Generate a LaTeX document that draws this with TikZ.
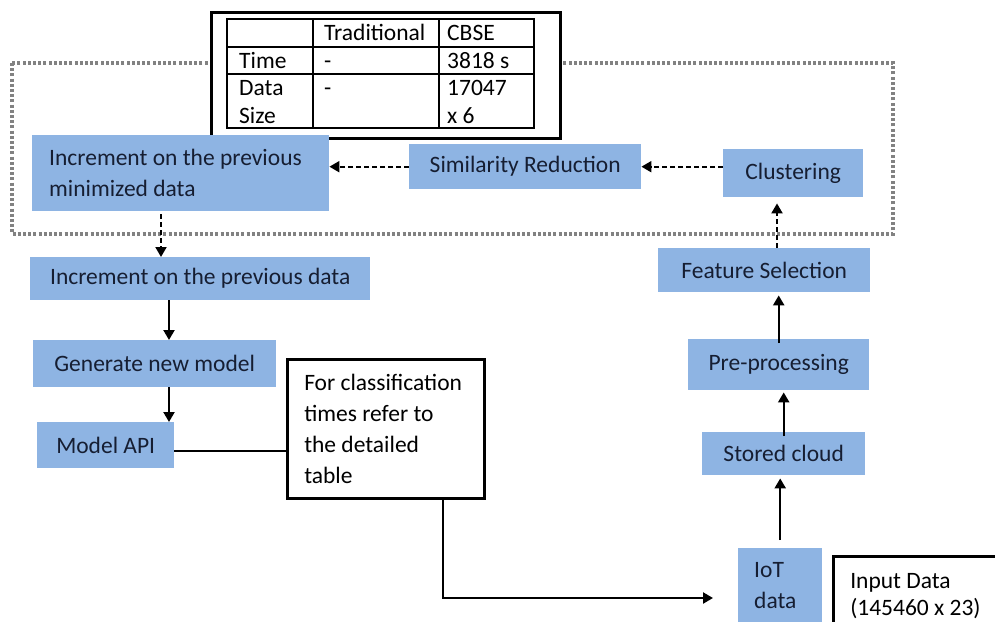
\documentclass[tikz,border=0pt]{standalone}
\usepackage{fontspec}
\setmainfont{Carlito}
\usetikzlibrary{arrows.meta,calc}
\definecolor{boxblue}{RGB}{142,180,227}
\definecolor{boxtext}{RGB}{22,30,50}
\definecolor{dotgray}{RGB}{130,130,130}
\begin{document}
\begin{tikzpicture}[x=1pt,y=-1pt,
  every node/.style={font=\fontsize{23.5}{31}\selectfont},
  bluebox/.style={fill=boxblue, draw=none, text=boxtext, inner sep=0pt, anchor=north west},
  notebox/.style={fill=white, draw=black, line width=2.5pt, text=black, anchor=north west, inner sep=0pt},
  tcell/.style={anchor=base west, inner sep=0pt, text=black},
  solidarrow/.style={line width=2.2pt, -{Triangle[length=10pt,width=11pt]}},
  dasharrow/.style={line width=2pt, dash pattern=on 5pt off 3pt, -{Triangle[length=10pt,width=11pt]}},
  conn/.style={line width=2.2pt},
  gridline/.style={line width=1.5pt},
]
\useasboundingbox (0,0) rectangle (995,621);
\clip (0,0) rectangle (995,621);
\fill[white] (0,0) rectangle (995,621);

% dotted frame
\draw[dotgray, line width=3.5pt, dash pattern=on 3pt off 2.2pt] (12,63) rectangle (893,234);

% table
\node[draw=black, fill=white, line width=3pt, minimum width=349pt, minimum height=126pt, anchor=north west, inner sep=0pt] (tbl) at (210,11) {};
\draw[gridline] (227,19) rectangle (534,128);
\draw[gridline] (227,47) -- (534,47);
\draw[gridline] (227,74) -- (534,74);
\draw[gridline] (313,19) -- (313,128);
\draw[gridline] (439,19) -- (439,128);
\node[tcell] (th2) at (324,40.5) {Traditional};
\node[tcell] (th3) at (447,40.5) {CBSE};
\node[tcell] (tr1) at (239,68.5) {Time};
\node[tcell] (tr2) at (324,68.5) {-};
\node[tcell] (tr3) at (447,68.5) {3818 s};
\node[tcell, align=flush left, font=\fontsize{23.5}{28}\selectfont] (ts1) at (239,123.5) {Data\\Size};
\node[tcell] (ts2) at (324,95.5) {-};
\node[tcell, align=flush left, font=\fontsize{23.5}{28}\selectfont] (ts3) at (447,123.5) {17047\\x 6};

% blue boxes
\node[bluebox, minimum width=297pt, minimum height=76pt, text width=263pt, inner xsep=17pt, align=flush left] (min) at (32,135) {Increment on the previous\\minimized data};
\node[bluebox, minimum width=232pt, minimum height=45pt] (sim) at (409,144) {Similarity Reduction};
\node[bluebox, minimum width=140pt, minimum height=48pt] (cl) at (723,149) {Clustering};
\node[bluebox, minimum width=340pt, minimum height=43pt] (incr) at (30,257) {Increment on the previous data};
\node[bluebox, minimum width=243pt, minimum height=47pt] (gen) at (33,340) {Generate new model};
\node[bluebox, minimum width=137pt, minimum height=46pt] (api) at (37,422) {Model API};
\node[bluebox, minimum width=212pt, minimum height=44pt] (fs) at (658,248) {Feature Selection};
\node[bluebox, minimum width=181pt, minimum height=51pt] (pre) at (688,339) {Pre-processing};
\node[bluebox, minimum width=163pt, minimum height=43pt] (sc) at (702,432) {Stored cloud};
\node[bluebox, minimum width=84pt, minimum height=74pt, text width=52pt, inner xsep=16pt, align=flush left] (iot) at (738,548) {IoT\\data};

% note boxes
\node[notebox, minimum width=197pt, minimum height=139pt, text width=163pt, inner xsep=17pt, align=flush left] (note) at (286,358) {For classification\\times refer to\\the detailed\\table};
\node[notebox, minimum width=180pt, minimum height=80pt, text width=146pt, inner xsep=17pt, align=flush left, font=\fontsize{23.5}{27}\selectfont] (inp) at (832,555) {Input Data\\(145460 x 23)};

% helper coordinates
\coordinate (c1) at (161,0);
\coordinate (c2) at (169,0);
\coordinate (c3) at (443,598);
\coordinate (c4) at (713,598);
\coordinate (c5) at (777,0);
\coordinate (c6) at (0,451);

% connectors
\draw[dasharrow] (cl.west |- sim.east) -- (sim.east);
\draw[dasharrow] (sim.west) -- (sim.west -| min.east);
\draw[dasharrow, shorten <=3pt] (min.south -| c1) -- (incr.north -| c1);
\draw[solidarrow] (incr.south -| c2) -- (gen.north -| c2);
\draw[solidarrow] (gen.south -| c2) -- (api.north -| c2);
\draw[conn] (api.east |- c6) -- (note.west |- c6);
\draw[solidarrow] (note.south -| c3) -- (c3) -- (c4);
\draw[solidarrow, shorten <=8pt, shorten >=3pt] (iot.north) -- (iot.north |- sc.south);
\draw[solidarrow, shorten <=-4pt, shorten >=2pt] (sc.north) -- (sc.north |- pre.south);
\draw[solidarrow, shorten <=-4pt, shorten >=3pt] (pre.north) -- (pre.north |- fs.south);
\draw[dasharrow, shorten >=6pt] (fs.north -| c5) -- (cl.south -| c5);
\end{tikzpicture}
\end{document}
